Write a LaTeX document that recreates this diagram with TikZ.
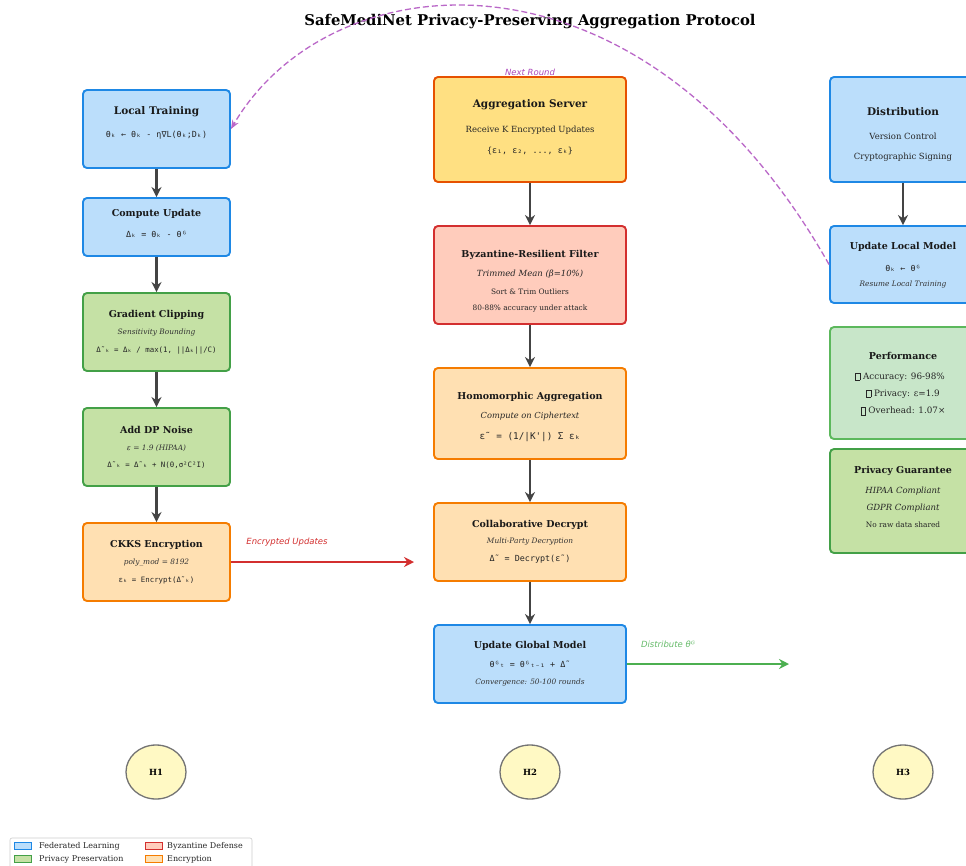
\documentclass[tikz,border=0pt]{standalone}
\usepackage{fontspec}
\setmainfont{DejaVu Serif}
\setsansfont{DejaVu Sans}
\setmonofont{DejaVu Sans Mono}
\usetikzlibrary{arrows.meta,shapes.geometric}
\definecolor{fedfill}{HTML}{BBDEFB}
\definecolor{fedline}{HTML}{1E88E5}
\definecolor{privfill}{HTML}{C5E1A5}
\definecolor{privline}{HTML}{43A047}
\definecolor{perffill}{HTML}{C8E6C9}
\definecolor{perfline}{HTML}{5CB85C}
\definecolor{byzfill}{HTML}{FFCCBC}
\definecolor{byzline}{HTML}{D32F2F}
\definecolor{encfill}{HTML}{FFE0B2}
\definecolor{encline}{HTML}{F57C00}
\definecolor{aggfill}{HTML}{FFE082}
\definecolor{aggline}{HTML}{E65100}
\definecolor{hfill}{HTML}{FFF9C4}
\definecolor{flowgray}{HTML}{444444}
\definecolor{redarrow}{HTML}{D32F2F}
\definecolor{greenarrow}{HTML}{4CAF50}
\definecolor{greenlabel}{HTML}{66BB6A}
\definecolor{purplearc}{HTML}{BA68C8}
\definecolor{purplelabel}{HTML}{AB47BC}
\newcommand{\tofubox}{{\setlength{\fboxsep}{0pt}\setlength{\fboxrule}{0.4pt}\raisebox{-0.8pt}{\fbox{\rule{0pt}{7pt}\hspace{4.2pt}}}}}
\tikzset{
  box/.style={rectangle, rounded corners=4pt, line width=1.9pt, inner sep=0pt},
  fed/.style={box, fill=fedfill, draw=fedline},
  priv/.style={box, fill=privfill, draw=privline},
  perf/.style={box, fill=perffill, draw=perfline},
  byz/.style={box, fill=byzfill, draw=byzline},
  enc/.style={box, fill=encfill, draw=encline},
  agg/.style={box, fill=aggfill, draw=aggline},
  ttl/.style={font=\bfseries\fontsize{9.5}{10}\selectfont, text=black!90, inner sep=0pt},
  ttlbig/.style={font=\bfseries\fontsize{10.5}{11}\selectfont, text=black!90, inner sep=0pt},
  subi/.style={font=\itshape\fontsize{7.4}{8}\selectfont, text=black!80, inner sep=0pt},
  subim/.style={font=\itshape\fontsize{8.5}{9}\selectfont, text=black!85, inner sep=0pt},
  plain/.style={font=\fontsize{7.4}{8}\selectfont, text=black!85, inner sep=0pt},
  plainm/.style={font=\fontsize{8.5}{9}\selectfont, text=black!85, inner sep=0pt},
  monob/.style={font=\ttfamily\fontsize{8.4}{9}\selectfont, text=black!85, inner sep=0pt},
  monos/.style={font=\ttfamily\fontsize{7.4}{8}\selectfont, text=black!85, inner sep=0pt},
  flow/.style={draw=flowgray, line width=2.4pt, -{Stealth[length=10pt,width=10pt]}},
  elabel/.style={font=\sffamily\itshape\fontsize{8.5}{9}\selectfont, inner sep=0pt},
  hnode/.style={ellipse, fill=hfill, draw=black!55, line width=1.3pt, minimum width=60pt, minimum height=54pt, font=\bfseries\fontsize{8.5}{9}\selectfont},
  legsw/.style={rectangle, minimum width=17pt, minimum height=7pt, line width=0.9pt, inner sep=0pt},
  legtx/.style={font=\fontsize{8}{9}\selectfont, text=black!85, anchor=west, inner sep=0pt}
}
\begin{document}
\begin{tikzpicture}[x=1pt,y=-1pt]
\clip (0,0) rectangle (966,865);
\fill[white] (0,0) rectangle (966,865);

% title
\node[font=\bfseries\fontsize{14.8}{16}\selectfont, inner sep=0pt] (title) at (530,22) {SafeMediNet Privacy-Preserving Aggregation Protocol};

% ---------- left column ----------
\node[fed, minimum width=147pt, minimum height=78pt] (lt) at (156.5,129) {};
\node[ttlbig] (lt1) at (156.5,112) {Local Training};
\node[monob] (lt2) at (156.5,135) {θₖ ← θₖ - η∇L(θₖ;Dₖ)};

\node[fed, minimum width=147pt, minimum height=58pt] (cu) at (156.5,227) {};
\node[ttl] (cu1) at (156.5,214) {Compute Update};
\node[monob] (cu2) at (156.5,234) {Δₖ = θₖ - θᴳ};

\node[priv, minimum width=147pt, minimum height=78pt] (gc) at (156.5,332) {};
\node[ttl] (gc1) at (156.5,315) {Gradient Clipping};
\node[subi] (gc2) at (156.5,333) {Sensitivity Bounding};
\node[monos] (gc3) at (156.5,350) {Δ˜ₖ = Δₖ / max(1, ||Δₖ||/C)};

\node[priv, minimum width=147pt, minimum height=78pt] (dp) at (156.5,447) {};
\node[ttl] (dp1) at (156.5,430) {Add DP Noise};
\node[subi] (dp2) at (156.5,448) {ε = 1.9 (HIPAA)};
\node[monos] (dp3) at (156.5,465) {Δ˜ₖ = Δ˜ₖ + N(0,σ²C²I)};

\node[enc, minimum width=147pt, minimum height=78pt] (ck) at (156.5,562) {};
\node[ttl] (ck1) at (156.5,545) {CKKS Encryption};
\node[subi] (ck2) at (156.5,563) {poly\_mod = 8192};
\node[monos] (ck3) at (156.5,580) {εₖ = Encrypt(Δ˜ₖ)};

\draw[flow] (lt) -- (cu);
\draw[flow] (cu) -- (gc);
\draw[flow] (gc) -- (dp);
\draw[flow] (dp) -- (ck);

% ---------- middle column ----------
\node[agg, minimum width=192pt, minimum height=105pt] (as) at (530,129.5) {};
\node[ttlbig] (as1) at (530,105) {Aggregation Server};
\node[plainm] (as2) at (530,130) {Receive K Encrypted Updates};
\node[monob] (as3) at (530,151) {\{ε₁, ε₂, ..., εₖ\}};

\node[byz, minimum width=192pt, minimum height=98pt] (bz) at (530,275) {};
\node[ttl] (bz1) at (530,255) {Byzantine-Resilient Filter};
\node[subim] (bz2) at (530,274) {Trimmed Mean (β=10\%)};
\node[plain] (bz3) at (530,292) {Sort \& Trim Outliers};
\node[plain] (bz4) at (530,309) {80-88\% accuracy under attack};

\node[enc, minimum width=192pt, minimum height=91pt] (ha) at (530,413.5) {};
\node[ttl] (ha1) at (530,397) {Homomorphic Aggregation};
\node[font=\itshape\fontsize{8.3}{9}\selectfont, text=black!85, inner sep=0pt] (ha2) at (530,416) {Compute on Ciphertext};
\node[font=\ttfamily\fontsize{9.3}{10}\selectfont, text=black!85, inner sep=0pt] (ha3) at (530,437) {ε˜ = (1/|K'|) Σ εₖ};

\node[enc, minimum width=192pt, minimum height=78pt] (cd) at (530,542) {};
\node[ttl] (cd1) at (530,525) {Collaborative Decrypt};
\node[subi] (cd2) at (530,542) {Multi-Party Decryption};
\node[monob] (cd3) at (530,559) {Δ˜ = Decrypt(ε˜)};

\node[fed, minimum width=192pt, minimum height=78pt] (ug) at (530,664) {};
\node[ttl] (ug1) at (530,646) {Update Global Model};
\node[monob] (ug2) at (530,664) {θᴳₜ = θᴳₜ₋₁ + Δ˜};
\node[subi] (ug3) at (530,682) {Convergence: 50-100 rounds};

\draw[flow] (as) -- (bz);
\draw[flow] (bz) -- (ha);
\draw[flow] (ha) -- (cd);
\draw[flow] (cd) -- (ug);

% ---------- right column ----------
\node[fed, minimum width=146pt, minimum height=105pt] (di) at (903,129.5) {};
\node[ttlbig] (di1) at (903,112) {Distribution};
\node[plainm] (di2) at (903,136) {Version Control};
\node[plainm] (di3) at (903,157) {Cryptographic Signing};

\node[fed, minimum width=146pt, minimum height=77pt] (ul) at (903,264.5) {};
\node[ttl] (ul1) at (903,247) {Update Local Model};
\node[monob] (ul2) at (903,268) {θₖ ← θᴳ};
\node[subi] (ul3) at (903,285) {Resume Local Training};

\node[perf, minimum width=146pt, minimum height=112pt] (pf) at (903,383) {};
\node[ttl] (pf1) at (903,356) {Performance};
\node[font=\fontsize{8.8}{9}\selectfont, text=black!85, inner sep=0pt] (pf2) at (900,377) {\tofubox\ Accuracy: 96-98\%};
\node[font=\fontsize{8.8}{9}\selectfont, text=black!85, inner sep=0pt] (pf3) at (903,394) {\tofubox\ Privacy: ε=1.9};
\node[font=\fontsize{8.8}{9}\selectfont, text=black!85, inner sep=0pt] (pf4) at (903,411) {\tofubox\ Overhead: 1.07×};

\node[priv, minimum width=146pt, minimum height=104pt] (pg) at (903,501) {};
\node[ttl] (pg1) at (903,471) {Privacy Guarantee};
\node[subim] (pg2) at (903,491) {HIPAA Compliant};
\node[subim] (pg3) at (903,508) {GDPR Compliant};
\node[plain] (pg4) at (903,525) {No raw data shared};

\draw[flow] (di) -- (ul);

% ---------- cross connectors ----------
\coordinate (encend) at (414,562);
\draw[draw=redarrow, line width=2.6pt, -{Stealth[length=10pt,width=10pt]}] (ck.east) -- (encend);
\node[elabel, text=redarrow] (enclab) at (287,542) {Encrypted Updates};

\coordinate (distend) at (789,664);
\draw[draw=greenarrow, line width=2.6pt, -{Stealth[length=10pt,width=10pt]}] (ug.east) -- (distend);
\node[elabel, text=greenlabel] (distlab) at (668,644) {Distribute θᴳ};

\draw[draw=purplearc, line width=1.3pt, dash pattern=on 6pt off 3pt, -{Stealth[length=9pt,width=7pt]}]
  (ul.west) .. controls (640,-70) and (330,-40) .. (lt.east);
\node[elabel, text=purplelabel] (nrlab) at (530,72) {Next Round};

% ---------- H nodes ----------
\node[hnode] (h1) at (156,772) {H1};
\node[hnode] (h2) at (530,772) {H2};
\node[hnode] (h3) at (903,772) {H3};

% ---------- legend ----------
\draw[draw=black!20, fill=white, rounded corners=2pt, line width=0.6pt] (10,838) rectangle (252,875);
\node[legsw, fill=fedfill, draw=fedline] (lg1) at (23,846) {};
\node[legtx] (lt1x) at (39,846) {Federated Learning};
\node[legsw, fill=byzfill, draw=byzline] (lg2) at (154,846) {};
\node[legtx] (lt2x) at (167,846) {Byzantine Defense};
\node[legsw, fill=privfill, draw=privline] (lg3) at (23,859) {};
\node[legtx] (lt3x) at (39,859) {Privacy Preservation};
\node[legsw, fill=encfill, draw=encline] (lg4) at (154,859) {};
\node[legtx] (lt4x) at (167,859) {Encryption};
\end{tikzpicture}
\end{document}
